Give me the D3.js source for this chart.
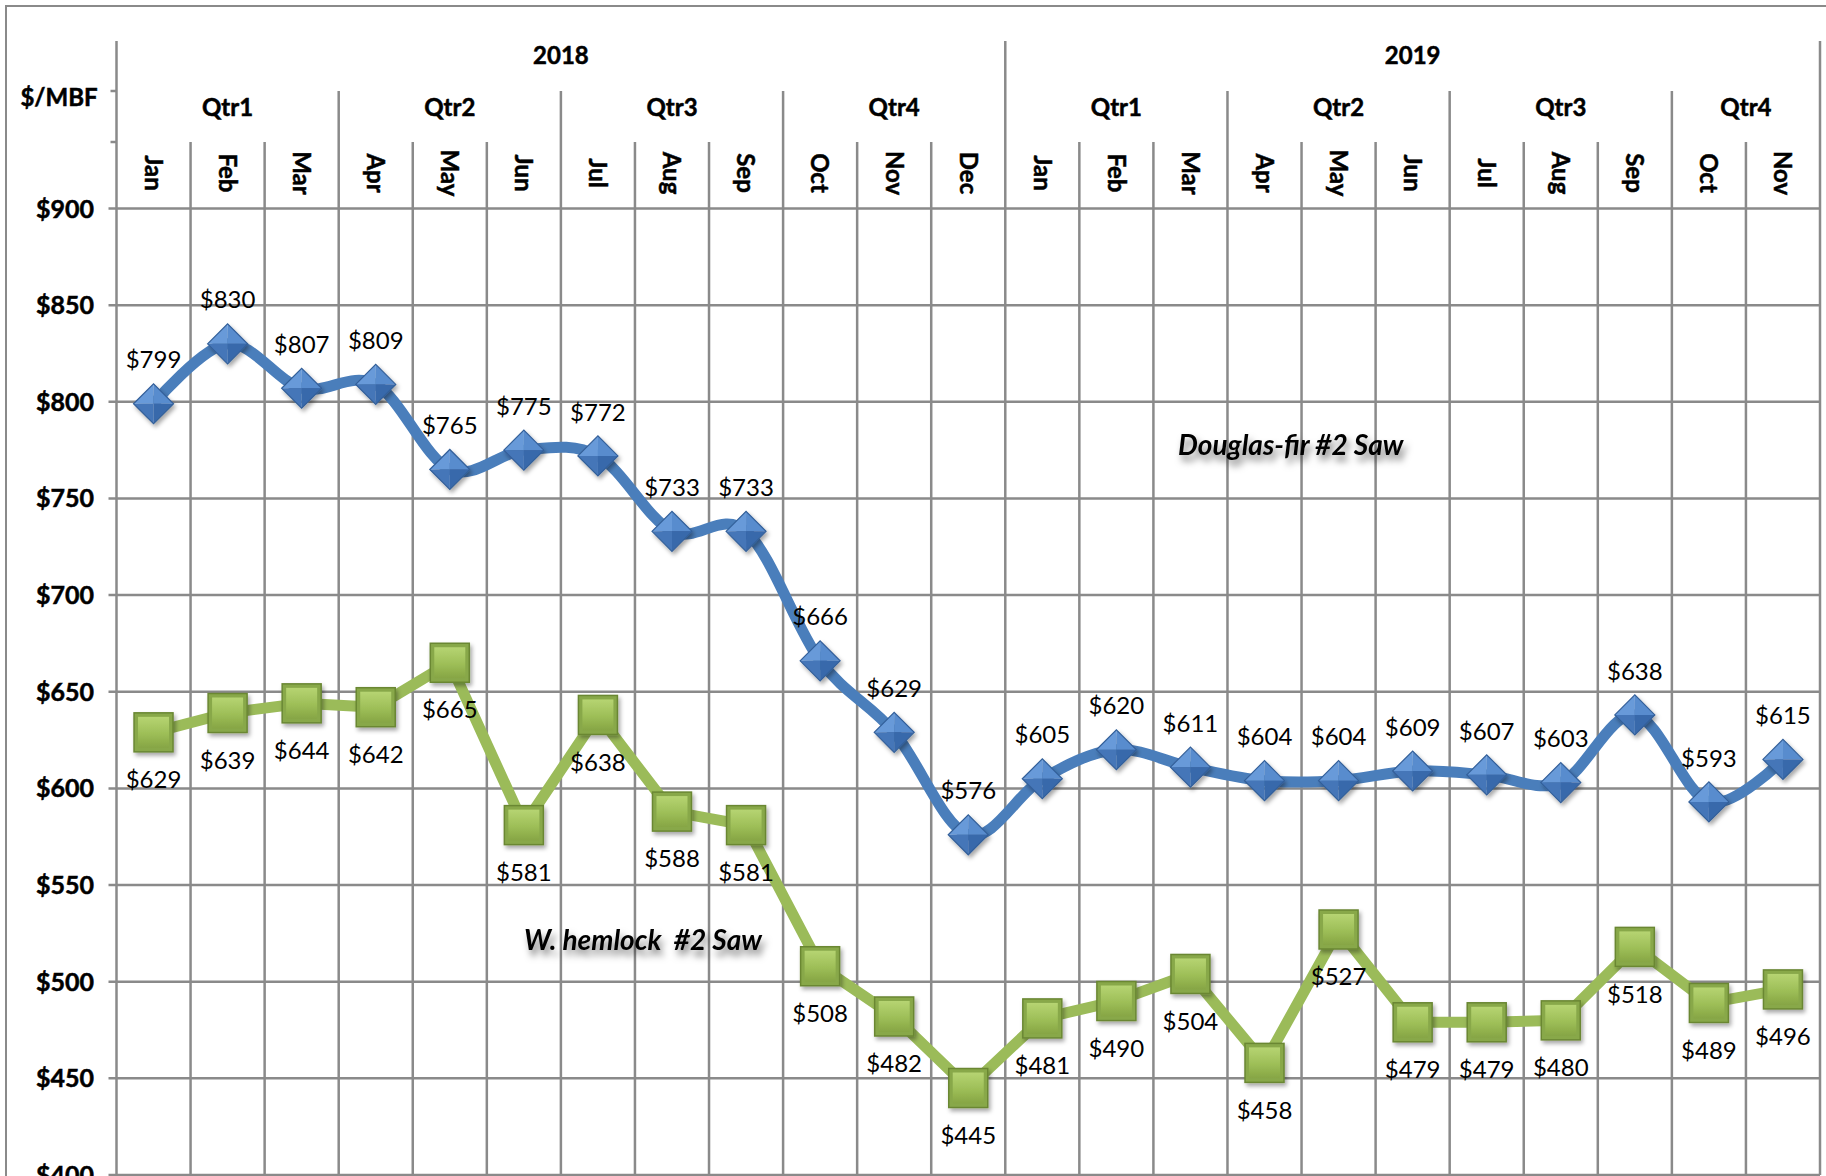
<!DOCTYPE html>
<html>
<head>
<meta charset="utf-8">
<script src="https://cdn.jsdelivr.net/npm/d3@7"></script>
<style>
  body { margin: 0; background: #fff; }
  svg { display: block; font-family: Lato, "Open Sans", sans-serif; }
  .grid line { stroke: #8a8a8a; stroke-width: 2.5; }
  .hdr { font-weight: bold; font-size: 24px; fill: #000; stroke: #000; stroke-width: 0.5; }
  .ytick { font-weight: bold; font-size: 25px; fill: #000; stroke: #000; stroke-width: 0.5; }
  .dlabel { font-size: 24px; fill: #000; }
  .series-name { font-weight: bold; font-style: italic; font-size: 28px; fill: #000; white-space: pre; }
</style>
</head>
<body>
<svg id="chart" width="1826" height="1176"></svg>
<script>
// months in display order, grouped by year and quarter
var months = ["Jan","Feb","Mar","Apr","May","Jun","Jul","Aug","Sep","Oct","Nov","Dec",
              "Jan","Feb","Mar","Apr","May","Jun","Jul","Aug","Sep","Oct","Nov"];
var years = [
  {name: "2018", start: 0, end: 12},
  {name: "2019", start: 12, end: 23}
];
var quarters = [
  {name: "Qtr1", start: 0, end: 3}, {name: "Qtr2", start: 3, end: 6},
  {name: "Qtr3", start: 6, end: 9}, {name: "Qtr4", start: 9, end: 12},
  {name: "Qtr1", start: 12, end: 15}, {name: "Qtr2", start: 15, end: 18},
  {name: "Qtr3", start: 18, end: 21}, {name: "Qtr4", start: 21, end: 23}
];
var douglasFir = [799, 830, 807, 809, 765, 775, 772, 733, 733, 666, 629, 576,
                  605, 620, 611, 604, 604, 609, 607, 603, 638, 593, 615];
var hemlock = [629, 639, 644, 642, 665, 581, 638, 588, 581, 508, 482, 445,
               481, 490, 504, 458, 527, 479, 479, 480, 518, 489, 496];
var yTicks = [400, 450, 500, 550, 600, 650, 700, 750, 800, 850, 900];

var svg = d3.select("#chart");
var plotL = 116.5, plotR = 1820, plotT = 208.5, plotB = 1175;

var x = d3.scaleBand().domain(d3.range(months.length)).range([plotL, plotR]).padding(0);
var y = d3.scaleLinear().domain([400, 900]).range([plotB, plotT]);
var cx = function(i) { return x(i) + x.bandwidth() / 2; };
var edge = function(i) { return i < months.length ? x(i) : plotR; };

var defs = svg.append("defs");
var shadow = defs.append("filter").attr("id", "shadow")
    .attr("x", "-30%").attr("y", "-30%").attr("width", "170%").attr("height", "170%");
shadow.append("feDropShadow").attr("dx", 2).attr("dy", 3).attr("stdDeviation", 2)
    .attr("flood-color", "#000").attr("flood-opacity", 0.35);
var textShadow = defs.append("filter").attr("id", "textShadow")
    .attr("x", "-10%").attr("y", "-50%").attr("width", "120%").attr("height", "200%");
textShadow.append("feDropShadow").attr("dx", 3).attr("dy", 6).attr("stdDeviation", 3.5)
    .attr("flood-color", "#000").attr("flood-opacity", 0.5);

var green = defs.append("linearGradient").attr("id", "greenFace")
    .attr("x1", 0).attr("y1", 0).attr("x2", 0).attr("y2", 1);
green.append("stop").attr("offset", "0%").attr("stop-color", "#b6d472");
green.append("stop").attr("offset", "55%").attr("stop-color", "#9dbe57");
green.append("stop").attr("offset", "100%").attr("stop-color", "#86a544");

// outer frame
svg.append("rect").attr("x", 6).attr("y", 6).attr("width", 1830).attr("height", 1190)
    .attr("fill", "none").attr("stroke", "#8a8a8a").attr("stroke-width", 2);

var grid = svg.append("g").attr("class", "grid");

// horizontal gridlines with small ticks to the left
grid.selectAll("line.h").data(yTicks).enter().append("line").attr("class", "h")
    .attr("x1", plotL - 8).attr("x2", plotR)
    .attr("y1", function(d) { return y(d); }).attr("y2", function(d) { return y(d); });

// vertical lines: month boundaries start low, quarter and year boundaries higher
var yearEdges = [0, 12, 23];
var quarterEdges = [3, 6, 9, 15, 18, 21];
var vlines = d3.range(months.length + 1).map(function(i) {
  var y0 = yearEdges.indexOf(i) >= 0 ? 41 : (quarterEdges.indexOf(i) >= 0 ? 91 : 142);
  return {i: i, y0: y0};
});
grid.selectAll("line.v").data(vlines).enter().append("line").attr("class", "v")
    .attr("x1", function(d) { return edge(d.i); }).attr("x2", function(d) { return edge(d.i); })
    .attr("y1", function(d) { return d.y0; }).attr("y2", plotB);
grid.selectAll("line.t").data([91, 142]).enter().append("line").attr("class", "t")
    .attr("x1", plotL - 6).attr("x2", plotL)
    .attr("y1", function(d) { return d; }).attr("y2", function(d) { return d; });

// y axis labels
svg.selectAll("text.ytick").data(yTicks).enter().append("text").attr("class", "ytick")
    .attr("x", 94).attr("y", function(d) { return y(d); }).attr("dy", "0.36em")
    .attr("text-anchor", "end").text(function(d) { return "$" + d; });
svg.append("text").attr("class", "hdr").attr("x", 59).attr("y", 97).attr("dy", "0.36em")
    .attr("text-anchor", "middle").attr("font-size", 23).text("$/MBF");

// header: years, quarters, months
svg.selectAll("text.year").data(years).enter().append("text").attr("class", "hdr year")
    .attr("x", function(d) { return (edge(d.start) + edge(d.end)) / 2; })
    .attr("y", 55).attr("dy", "0.36em").attr("text-anchor", "middle")
    .text(function(d) { return d.name; });
svg.selectAll("text.qtr").data(quarters).enter().append("text").attr("class", "hdr qtr")
    .attr("x", function(d) { return (edge(d.start) + edge(d.end)) / 2; })
    .attr("y", 107).attr("dy", "0.36em").attr("text-anchor", "middle")
    .attr("font-size", 25).text(function(d) { return d.name; });
svg.selectAll("text.month").data(months).enter().append("text").attr("class", "hdr month")
    .attr("transform", function(d, i) { return "translate(" + cx(i) + ",173) rotate(90)"; })
    .attr("dy", "0.36em").attr("text-anchor", "middle").attr("font-size", 26)
    .text(function(d) { return d; });

// lines
var smooth = d3.line().x(function(d, i) { return cx(i); }).y(function(d) { return y(d); })
    .curve(d3.curveCatmullRom.alpha(0));
var straight = d3.line().x(function(d, i) { return cx(i); }).y(function(d) { return y(d); });

svg.append("path").datum(douglasFir).attr("d", smooth)
    .attr("fill", "none").attr("stroke", "#4a7ebb").attr("stroke-width", 11)
    .attr("stroke-linejoin", "round");
svg.append("path").datum(hemlock).attr("d", straight)
    .attr("fill", "none").attr("stroke", "#9bbb59").attr("stroke-width", 11)
    .attr("stroke-linejoin", "round");

// diamond markers drawn as four shaded facets
var r = 20;
var facets = [
  {pts: [[0,0],[-r,0],[0,-r]], fill: "#679ad9"},
  {pts: [[0,0],[0,-r],[r,0]], fill: "#588cce"},
  {pts: [[0,0],[r,0],[0,r]], fill: "#3869ab"},
  {pts: [[0,0],[0,r],[-r,0]], fill: "#4576b8"}
];
var dm = svg.selectAll("g.diamond").data(douglasFir).enter().append("g").attr("class", "diamond")
    .attr("transform", function(d, i) { return "translate(" + cx(i) + "," + y(d) + ")"; })
    .attr("filter", "url(#shadow)");
dm.selectAll("path").data(facets).enter().append("path")
    .attr("d", function(f) { return "M" + f.pts.join("L") + "Z"; })
    .attr("fill", function(f) { return f.fill; });
dm.append("path").attr("d", "M" + (-r) + ",0L0," + (-r) + "L" + r + ",0L0," + r + "Z")
    .attr("fill", "none").attr("stroke", "#335f99").attr("stroke-width", 1.2);

// square markers with bevel
var s = 19.5;
var sq = svg.selectAll("g.square").data(hemlock).enter().append("g").attr("class", "square")
    .attr("transform", function(d, i) { return "translate(" + cx(i) + "," + y(d) + ")"; })
    .attr("filter", "url(#shadow)");
sq.append("rect").attr("x", -s).attr("y", -s).attr("width", 2 * s).attr("height", 2 * s)
    .attr("fill", "#88a84a").attr("stroke", "#6a8733").attr("stroke-width", 1.5);
sq.append("rect").attr("x", -s + 4).attr("y", -s + 4).attr("width", 2 * s - 8).attr("height", 2 * s - 8)
    .attr("fill", "url(#greenFace)");

// data labels
svg.selectAll("text.df").data(douglasFir).enter().append("text").attr("class", "dlabel df")
    .attr("x", function(d, i) { return cx(i); }).attr("y", function(d) { return y(d) - 44; })
    .attr("dy", "0.36em").attr("text-anchor", "middle").text(function(d) { return "$" + d; });
svg.selectAll("text.wh").data(hemlock).enter().append("text").attr("class", "dlabel wh")
    .attr("x", function(d, i) { return cx(i); }).attr("y", function(d) { return y(d) + 47; })
    .attr("dy", "0.36em").attr("text-anchor", "middle").text(function(d) { return "$" + d; });

// series names
svg.append("text").attr("class", "series-name").attr("x", 1178).attr("y", 455)
    .attr("filter", "url(#textShadow)").text("Douglas-fir #2 Saw");
svg.append("text").attr("class", "series-name").attr("x", 524).attr("y", 950)
    .attr("filter", "url(#textShadow)").text("W. hemlock  #2 Saw");
</script>
</body>
</html>
